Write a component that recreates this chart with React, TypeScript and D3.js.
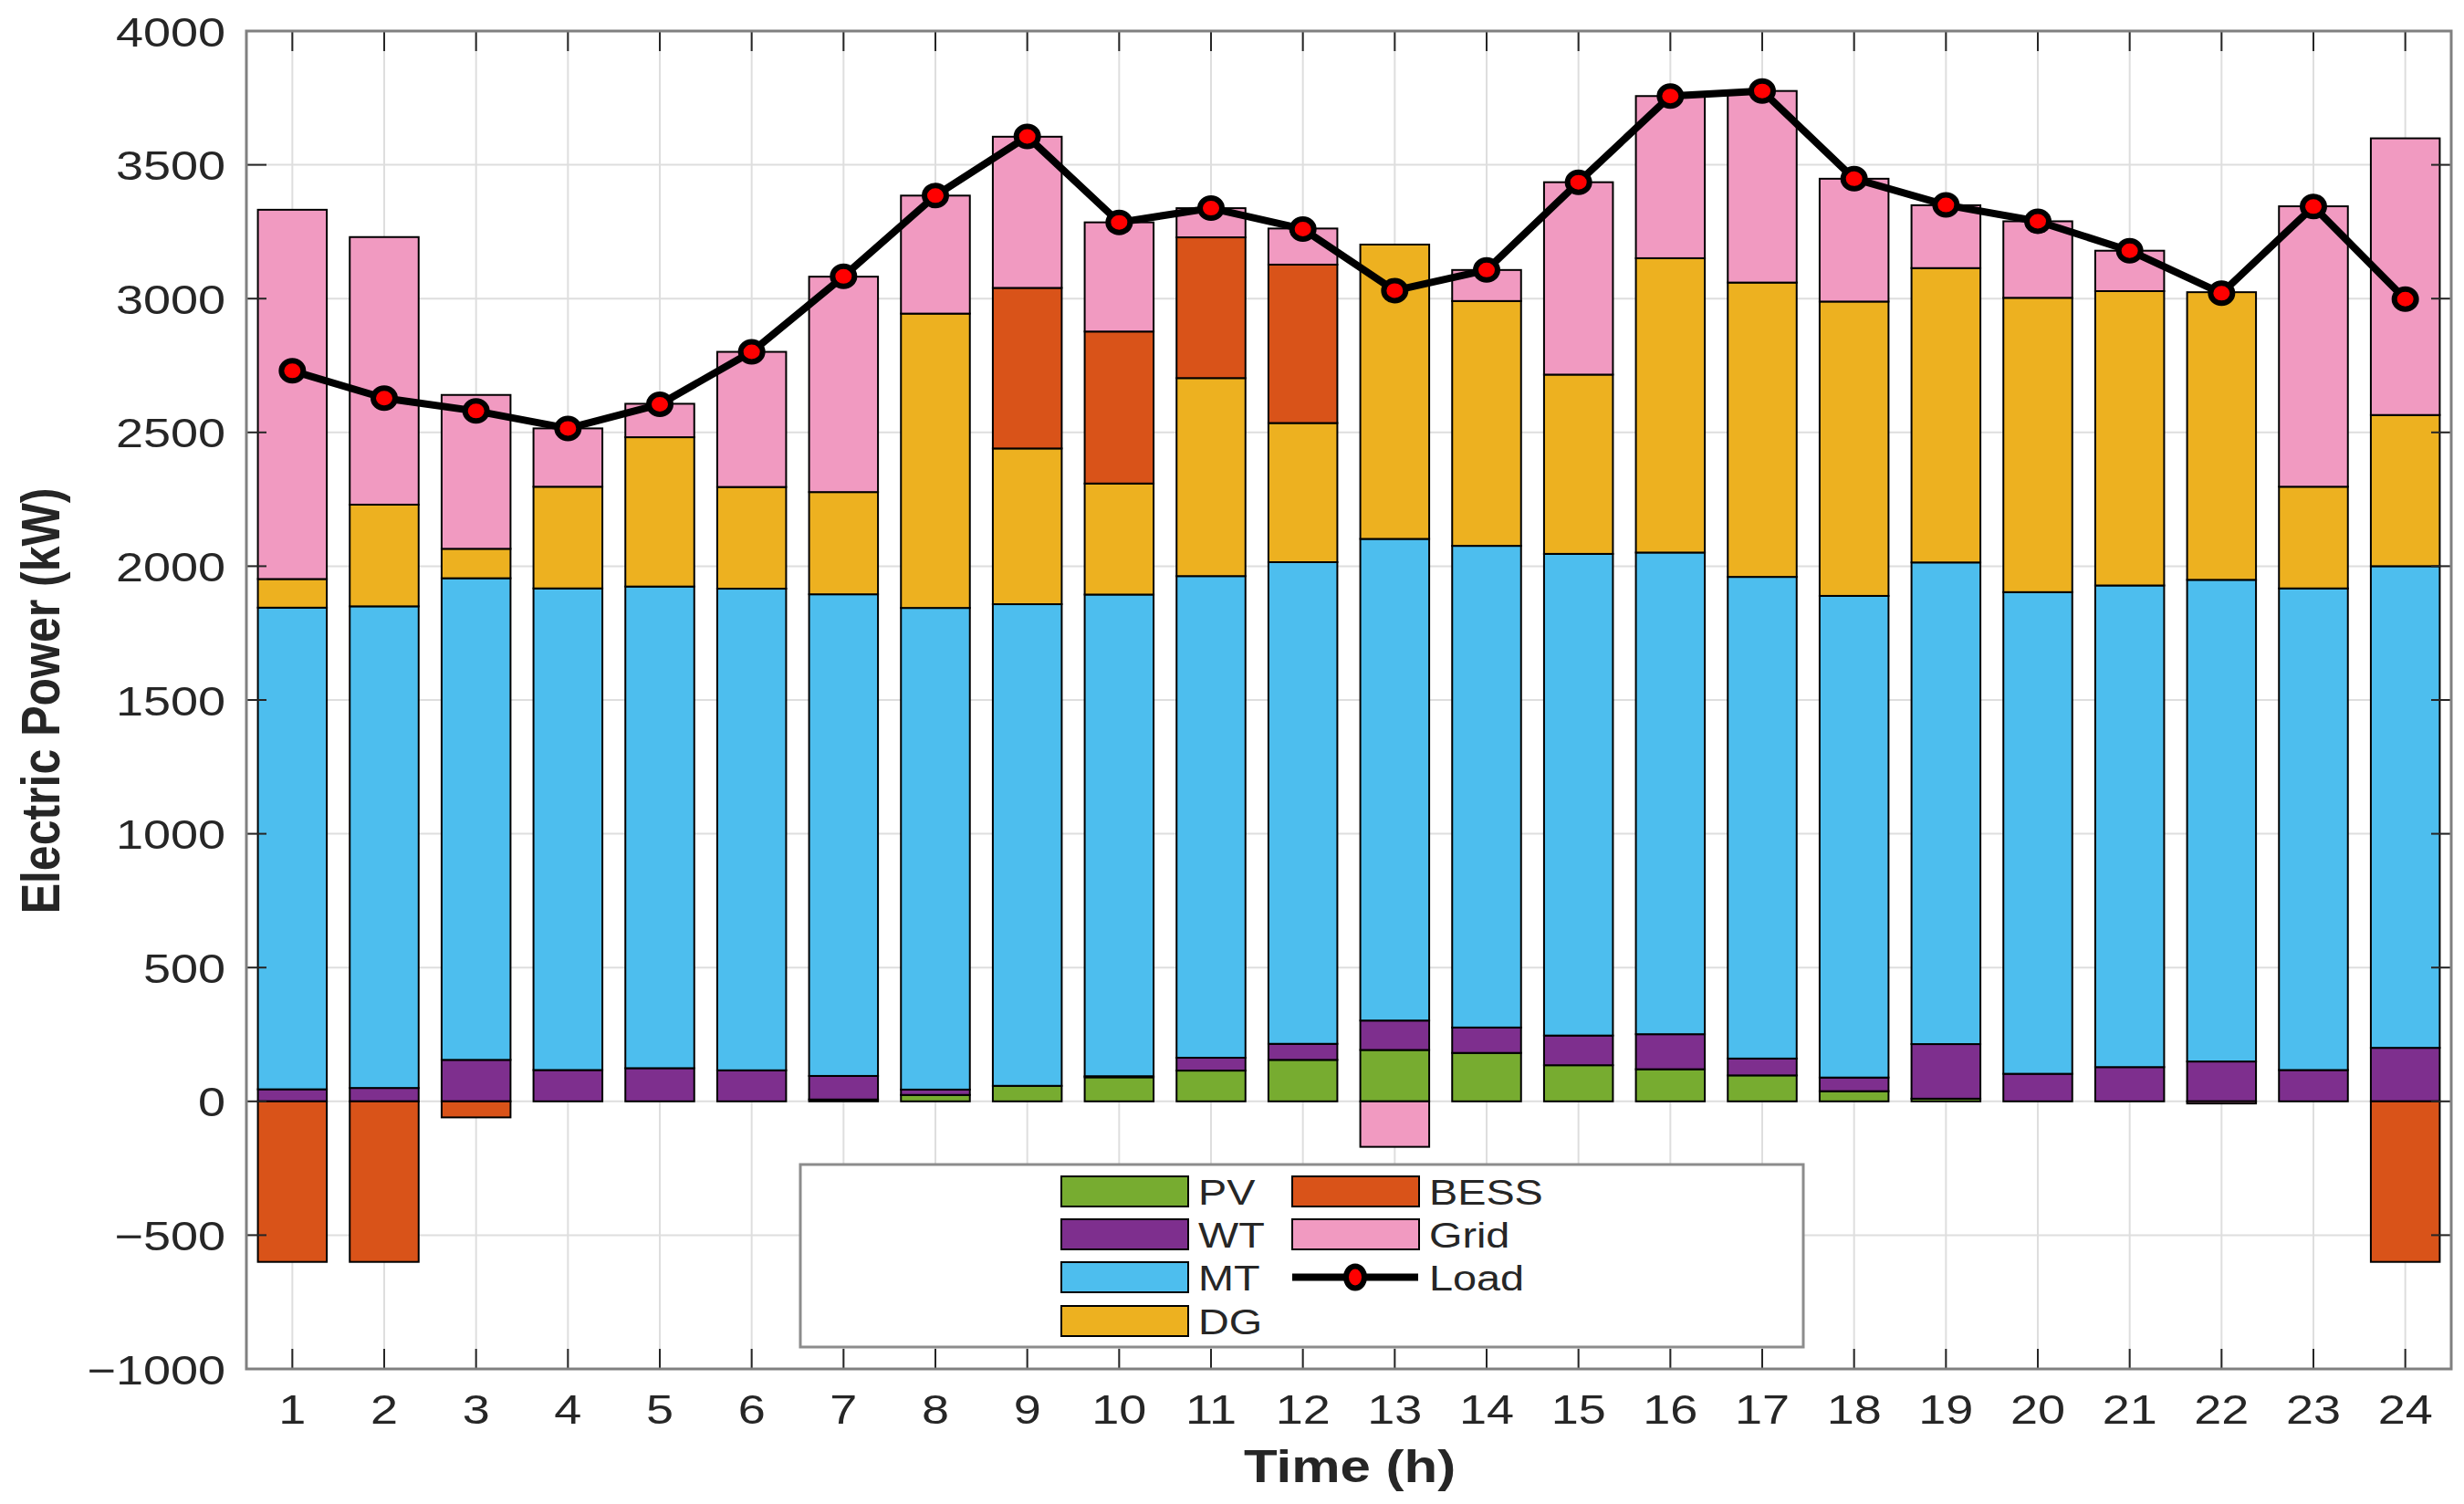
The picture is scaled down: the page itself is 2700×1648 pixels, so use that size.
import { useEffect, useRef } from "react"
import * as d3 from "d3"

// hourly dispatch (kW)
const hours = d3.range(1, 25)
const pv = [0, 0, 0, 0, 0, 0, 7, 24, 58, 90, 115, 155, 192, 181, 135, 120, 97, 38, 10, 0, 0, 0, 0, 0]
const wt = [45, 50, 155, 117, 124, 116, 88, 20, 0, 4, 48, 60, 110, 95, 111, 131, 63, 51, 204, 103, 128, 149, 117, 200]
const mt = [1800, 1800, 1800, 1800, 1800, 1800, 1800, 1800, 1800, 1800, 1800, 1800, 1800, 1800, 1800, 1800, 1800, 1800, 1800, 1800, 1800, 1800, 1800, 1800]
const dg = [107, 380, 110, 380, 558, 380, 382, 1100, 582, 415, 740, 520, 1100, 915, 670, 1100, 1100, 1100, 1100, 1100, 1100, 1075, 380, 565]
const bess = [-600, -600, -60, 0, 0, 0, 0, 0, 600, 568, 526, 592, 0, 0, 0, 0, 0, 0, 0, 0, 0, 0, 0, -600]
const grid = [1380, 1000, 575, 218, 125, 505, 805, 441, 565, 408, 109, 135, -170, 116, 719, 606, 716, 459, 235, 286, 151, -8, 1048, 1034]
const load = [2730, 2628, 2580, 2515, 2605, 2801, 3083, 3385, 3606, 3285, 3338, 3260, 3030, 3107, 3435, 3757, 3776, 3448, 3350, 3289, 3179, 3020, 3344, 2998]

const seriesNames = ["PV", "WT", "MT", "DG", "BESS", "Grid"]
const seriesValues = [pv, wt, mt, dg, bess, grid]
const seriesColors = ["#77AC30", "#7E2F8E", "#4DBEEE", "#EDB120", "#D95319", "#F19AC1"]
const yTicks = [-1000, -500, 0, 500, 1000, 1500, 2000, 2500, 3000, 3500, 4000]

const W = 2700
const H = 1648
const FONT = "'Liberation Sans', Arial, Helvetica, sans-serif"
const TEXT = "#262626"
const SX = 1.2 // the reference is stretched horizontally

const App = () => {
  const svgRef = useRef<SVGSVGElement | null>(null)

  useEffect(() => {
    if (!svgRef.current) return
    const svg = d3.select(svgRef.current)
    svg.selectAll("*").remove()

    const plot = { left: 270, right: 2686, top: 34, bottom: 1500 }

    const x = d3.scaleLinear().domain([0.5, 24.5]).range([plot.left, plot.right])
    const y = d3.scaleLinear().domain([-1000, 4000]).range([plot.bottom, plot.top])
    const step = x(2) - x(1)
    const bw = step * 0.75

    // table for the stack
    const rows = hours.map((h, i) => {
      const r: Record<string, number> = { hour: h }
      seriesNames.forEach((n, k) => (r[n] = seriesValues[k][i]))
      return r
    })
    const stacked = d3.stack<Record<string, number>>().keys(seriesNames).offset(d3.stackOffsetDiverging)(rows)

    svg.append("rect").attr("width", W).attr("height", H).attr("fill", "#fff")

    // grid
    const g = svg.append("g")
    g.selectAll(".gx")
      .data(hours)
      .join("line")
      .attr("x1", (d) => x(d))
      .attr("x2", (d) => x(d))
      .attr("y1", plot.top)
      .attr("y2", plot.bottom)
      .attr("stroke", "#dedede")
      .attr("stroke-width", 2)
    g.selectAll(".gy")
      .data(yTicks)
      .join("line")
      .attr("x1", plot.left)
      .attr("x2", plot.right)
      .attr("y1", (d) => y(d))
      .attr("y2", (d) => y(d))
      .attr("stroke", "#dedede")
      .attr("stroke-width", 2)

    // stacked bars
    stacked.forEach((layer, k) => {
      svg
        .append("g")
        .selectAll("rect")
        .data(layer.filter((d) => d[1] - d[0] !== 0))
        .join("rect")
        .attr("x", (d) => x(d.data.hour) - bw / 2)
        .attr("width", bw)
        .attr("y", (d) => y(Math.max(d[0], d[1])))
        .attr("height", (d) => Math.abs(y(d[0]) - y(d[1])))
        .attr("fill", seriesColors[k])
        .attr("stroke", "#000")
        .attr("stroke-width", 2)
    })

    // load line
    const line = d3
      .line<number>()
      .x((_, i) => x(hours[i]))
      .y((d) => y(d))
    svg.append("path").attr("d", line(load)).attr("fill", "none").attr("stroke", "#000").attr("stroke-width", 8).attr("stroke-linejoin", "round")
    svg
      .append("g")
      .selectAll("ellipse")
      .data(load)
      .join("ellipse")
      .attr("cx", (_, i) => x(hours[i]))
      .attr("cy", (d) => y(d))
      .attr("rx", 12)
      .attr("ry", 11)
      .attr("fill", "#ff0000")
      .attr("stroke", "#000")
      .attr("stroke-width", 6)

    // axes box + inward ticks
    const ax = svg.append("g")
    const tl = 22
    hours.forEach((h) => {
      ax.append("line").attr("x1", x(h)).attr("x2", x(h)).attr("y1", plot.bottom).attr("y2", plot.bottom - tl)
      ax.append("line").attr("x1", x(h)).attr("x2", x(h)).attr("y1", plot.top).attr("y2", plot.top + tl)
    })
    yTicks.forEach((t) => {
      ax.append("line").attr("x1", plot.left).attr("x2", plot.left + tl).attr("y1", y(t)).attr("y2", y(t))
      ax.append("line").attr("x1", plot.right).attr("x2", plot.right - tl).attr("y1", y(t)).attr("y2", y(t))
    })
    ax.selectAll("line").attr("stroke", TEXT).attr("stroke-width", 2)
    ax.append("rect")
      .attr("x", plot.left)
      .attr("y", plot.top)
      .attr("width", plot.right - plot.left)
      .attr("height", plot.bottom - plot.top)
      .attr("fill", "none")
      .attr("stroke", "#808080")
      .attr("stroke-width", 3)

    // tick labels
    svg
      .append("g")
      .selectAll("text")
      .data(hours)
      .join("text")
      .attr("transform", (d) => `translate(${x(d)},1560) scale(${SX},1)`)
      .attr("text-anchor", "middle")
      .attr("font-family", FONT)
      .attr("font-size", 45)
      .attr("fill", TEXT)
      .text((d) => d)
    svg
      .append("g")
      .selectAll("text")
      .data(yTicks)
      .join("text")
      .attr("transform", (d) => `translate(247,${y(d) + 16.5}) scale(${SX},1)`)
      .attr("text-anchor", "end")
      .attr("font-family", FONT)
      .attr("font-size", 45)
      .attr("fill", TEXT)
      .text((d) => (d < 0 ? `\u2212${-d}` : `${d}`))

    // axis titles
    svg
      .append("text")
      .attr("transform", `translate(1479,1624) scale(${SX},1)`)
      .attr("text-anchor", "middle")
      .attr("font-family", FONT)
      .attr("font-weight", "bold")
      .attr("font-size", 50)
      .attr("fill", TEXT)
      .text("Time (h)")
    svg
      .append("text")
      .attr("transform", `translate(65,768) scale(${SX},1) rotate(-90)`)
      .attr("text-anchor", "middle")
      .attr("font-family", FONT)
      .attr("font-weight", "bold")
      .attr("font-size", 50)
      .attr("fill", TEXT)
      .text("Electric Power (kW)")

    // legend
    const lg = svg.append("g")
    lg.append("rect").attr("x", 877).attr("y", 1276).attr("width", 1099).attr("height", 200).attr("fill", "#fff").attr("stroke", "#8c8c8c").attr("stroke-width", 3)
    const rowY = [1289, 1336, 1383, 1431]
    const cols = [
      { sx: 1163, tx: 1313 },
      { sx: 1416, tx: 1566 },
    ]
    const items = [...seriesNames.map((n, k) => ({ name: n, color: seriesColors[k] })), { name: "Load", color: "" }]
    items.forEach((it, i) => {
      const col = i < 4 ? cols[0] : cols[1]
      const ry = rowY[i < 4 ? i : i - 4]
      if (it.name === "Load") {
        lg.append("line").attr("x1", col.sx).attr("x2", col.sx + 138).attr("y1", ry + 16.5).attr("y2", ry + 16.5).attr("stroke", "#000").attr("stroke-width", 8)
        lg.append("ellipse").attr("cx", col.sx + 69).attr("cy", ry + 16.5).attr("rx", 10).attr("ry", 12).attr("fill", "#ff0000").attr("stroke", "#000").attr("stroke-width", 6)
      } else {
        lg.append("rect").attr("x", col.sx).attr("y", ry).attr("width", 139).attr("height", 33).attr("fill", it.color).attr("stroke", "#000").attr("stroke-width", 2)
      }
      lg.append("text")
        .attr("transform", `translate(${col.tx},${ry + 30.5}) scale(${SX},1)`)
        .attr("font-family", FONT)
        .attr("font-size", 39)
        .attr("fill", TEXT)
        .text(it.name)
    })
  }, [])

  return (
    <div style={{ position: "absolute", left: 0, top: 0, width: W, height: H }}>
      <svg ref={svgRef} width={W} height={H} />
    </div>
  )
}

export default App
